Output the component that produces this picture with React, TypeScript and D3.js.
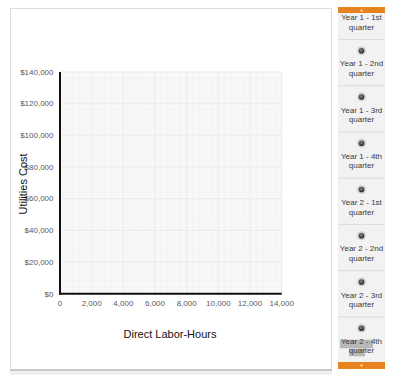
import React from 'react';
import * as d3 from 'd3';

const quarters = [
  'Year 1 - 1st quarter',
  'Year 1 - 2nd quarter',
  'Year 1 - 3rd quarter',
  'Year 1 - 4th quarter',
  'Year 2 - 1st quarter',
  'Year 2 - 2nd quarter',
  'Year 2 - 3rd quarter',
  'Year 2 - 4th quarter',
];
const xTicks = [0, 2000, 4000, 6000, 8000, 10000, 12000, 14000];
const yTicks = [0, 20000, 40000, 60000, 80000, 100000, 120000, 140000];
const xTitle = 'Direct Labor-Hours';
const yTitle = 'Utilities Cost';

const FONT = '"Liberation Sans", Arial, sans-serif';

export default function App() {
  const x = d3.scaleLinear().domain([0, 14000]).range([60, 281.7]);
  const y = d3.scaleLinear().domain([0, 140000]).range([293.7, 72]);
  const minorX = d3.range(0, 14000 + 1, 400);
  const minorY = d3.range(0, 140000 + 1, 4000);
  const fmtX = d3.format(',');
  const fmtY = (v: number) => '$' + d3.format(',')(v);

  const panelX0 = 338;
  const panelX1 = 385;
  const itemTop0 = 39.4 - 46.25;
  const itemH = 46.25;
  const cx = (panelX0 + panelX1) / 2;

  return (
    <svg
      width={394}
      height={375}
      style={{ position: 'absolute', left: 0, top: 0, fontFamily: FONT }}
    >
      <defs>
        <clipPath id="panelClip">
          <rect x={panelX0} y={13} width={panelX1 - panelX0} height={349} />
        </clipPath>
        <radialGradient id="radioGrad" cx="45%" cy="40%" r="60%">
          <stop offset="0%" stopColor="#888" />
          <stop offset="100%" stopColor="#222" />
        </radialGradient>
      </defs>
      {/* main panel */}
      <rect x={0} y={0} width={394} height={375} fill="#fff" />
      <rect x={10.5} y={8.5} width={321} height={361} fill="#fff" stroke="#dedede" />
      <line x1={10} x2={332} y1={370} y2={370} stroke="#c8c8c8" strokeWidth={2} />
      <rect x={10} y={371} width={322} height={4} fill="#f0f0f0" />

      {/* plot area */}
      <rect x={60} y={72} width={281.7 - 60} height={293.7 - 72} fill="#f8f8f8" />
      {minorX.map((v) => (
        <line key={'mx' + v} x1={x(v)} x2={x(v)} y1={72} y2={293.7} stroke="#f3f3f3" strokeWidth={1} />
      ))}
      {minorY.map((v) => (
        <line key={'my' + v} x1={60} x2={281.7} y1={y(v)} y2={y(v)} stroke="#f3f3f3" strokeWidth={1} />
      ))}
      {xTicks.map((v) => (
        <line key={'gx' + v} x1={x(v)} x2={x(v)} y1={72} y2={293.7} stroke="#ededed" strokeWidth={1} />
      ))}
      {yTicks.map((v) => (
        <line key={'gy' + v} x1={60} x2={281.7} y1={y(v)} y2={y(v)} stroke="#ededed" strokeWidth={1} />
      ))}
      {/* axes */}
      <line x1={60} x2={60} y1={72} y2={294.7} stroke="#111" strokeWidth={2} />
      <line x1={59} x2={281.7} y1={293.7} y2={293.7} stroke="#111" strokeWidth={2} />

      {yTicks.map((v) => (
        <text key={'ty' + v} x={53.5} y={y(v)} dy="0.35em" textAnchor="end" fontSize={8} fill="#5a5a5a">
          {fmtY(v)}
        </text>
      ))}
      {xTicks.map((v) => (
        <text key={'tx' + v} x={x(v)} y={306} textAnchor="middle" fontSize={8} fill="#5a5a5a">
          {fmtX(v)}
        </text>
      ))}
      <text x={170} y={338} textAnchor="middle" fontSize={11} fill="#111">
        {xTitle}
      </text>
      <text
        transform={`translate(27,184) rotate(-90)`}
        textAnchor="middle"
        fontSize={11}
        fill="#111"
      >
        {yTitle}
      </text>

      {/* right panel */}
      <rect x={panelX0} y={8} width={panelX1 - panelX0} height={361} fill="#f2f2f2" />
      <g clipPath="url(#panelClip)">
        {quarters.map((q, i) => {
          const top = itemTop0 + i * itemH;
          const words = q.split(' ');
          const line1 = words.slice(0, 4).join(' ');
          const line2 = words.slice(4).join(' ');
          const last = i === quarters.length - 1;
          return (
            <g key={q}>
              {i > 0 && (
                <line x1={panelX0} x2={panelX1} y1={top} y2={top} stroke="#dcdcdc" strokeWidth={1} />
              )}
              <circle cx={cx} cy={top + 11.3} r={4} fill="#dadada" stroke="#b8b8b8" strokeWidth={0.6} />
              <circle cx={cx} cy={top + 11.3} r={2.8} fill="url(#radioGrad)" />
              {last && (
                <>
                  <rect x={340} y={top + 22.8} width={33} height={8.6} fill="#b8b8b8" />
                  <rect x={349} y={top + 31.8} width={16} height={7.6} fill="#b8b8b8" />
                </>
              )}
              <text x={cx} y={top + 27} textAnchor="middle" fontSize={8} fill="#3a3a3a">
                {line1}
              </text>
              <text x={cx} y={top + 36.5} textAnchor="middle" fontSize={8} fill="#3a3a3a">
                {line2}
              </text>
            </g>
          );
        })}
      </g>
      <rect x={panelX0} y={7} width={panelX1 - panelX0} height={6} fill="#e8821e" />
      <path d={`M${cx - 2},${11.5} L${cx + 2},${11.5} L${cx},${9} Z`} fill="#f6d3b0" />
      <rect x={panelX0} y={362} width={panelX1 - panelX0} height={7} fill="#e8821e" />
      <path d={`M${cx - 2},${364.5} L${cx + 2},${364.5} L${cx},${367} Z`} fill="#f6d3b0" />
    </svg>
  );
}
